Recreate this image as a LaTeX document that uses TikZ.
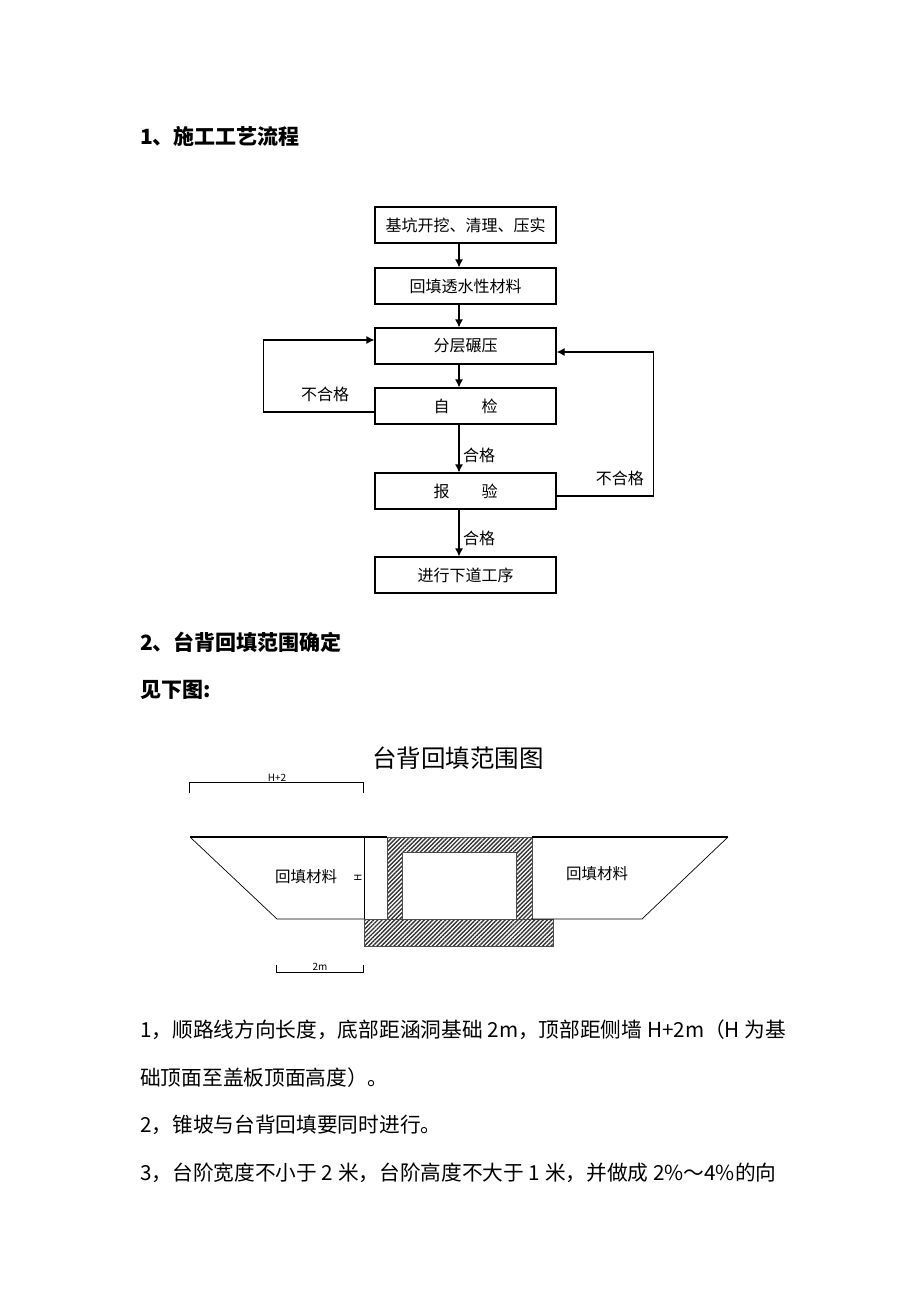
\documentclass[tikz,border=0pt]{standalone}
\usepackage{fontspec}
\setmainfont{Noto Sans CJK SC}
\usepackage{tikz}
\usetikzlibrary{positioning}
\usetikzlibrary{patterns.meta}
\usetikzlibrary{arrows.meta}

\begin{document}
\begin{tikzpicture}[x=1pt,y=-1pt,>={Latex[length=8pt,width=8pt]}]
	
	\def\bx{465.5}
	% Stile
	\tikzset{kasten/.style={draw,line width=1.2pt,minimum width=181pt,minimum height=36pt,inner sep=0pt,font=\fontsize{16}{16}\selectfont}}
	\tikzset{pfeil/.style={->,line width=1.2pt}}
	\tikzset{marke/.style={inner sep=0pt,font=\fontsize{16}{16}\selectfont}}
	\tikzset{titel/.style={anchor=west,inner sep=0pt,font=\fontsize{21}{21}\selectfont\bfseries}}
	\tikzset{zeile/.style={anchor=west,inner sep=0pt,font=\fontsize{20.7}{20.7}\selectfont}}
	\tikzset{klein/.style={inner sep=0pt,font=\fontsize{10}{10}\selectfont}}
	\tikzset{schraffur/.style={pattern={Lines[angle=45,distance=3pt,line width=1.4pt]},pattern color=black!80}}
	
	\useasboundingbox[fill=white] (0,0) rectangle (920,1302);
	
	% Ueberschriften
	\node[titel] (t1) at (140,136) {1、施工工艺流程};
	\node[titel] (t2) at (140,642) {2、台背回填范围确定};
	\node[titel] (t3) at (140,690) {见下图:};
	
	% Kaesten
	\node[kasten] (b1) at (\bx,225) {基坑开挖、清理、压实};
	\node[kasten] (b2) at (\bx,286) {回填透水性材料};
	\node[kasten] (b3) at (\bx,346) {分层碾压};
	\node[kasten] (b4) at (\bx,406) {自\hspace{2em}检};
	\node[kasten] (b5) at (\bx,491) {报\hspace{2em}验};
	\node[kasten] (b6) at (\bx,575) {进行下道工序};
	
	% Pfeile
	\foreach \a/\b in {b1/b2,b2/b3,b3/b4,b4/b5,b5/b6}
		\draw[pfeil] ([xshift=-6.5pt]\a.south) -- ([xshift=-6.5pt]\b.north);
	\draw[pfeil] ([yshift=-6pt]b4.west) -- ++(-111,0) |- ([yshift=6pt]b3.west);
	\draw[pfeil] ([yshift=-5pt]b5.east) -- ++(97,0) |- ([yshift=-6pt]b3.east);
	
	\node[marke,above left=4pt and 25pt of b4.west] (n1) {不合格};
	\node[marke,above right=5pt and 39pt of b5.east] (n2) {不合格};
	\node[marke] (g1) at (479,455) {合格};
	\node[marke] (g2) at (479,538) {合格};
	
	% Schnitt
	\node[inner sep=0pt,font=\fontsize{24.5}{24.5}\selectfont] (ti) at (458,758) {台背回填范围图};
	
	\fill[schraffur,even odd rule] (387,837) rectangle (532,919) (402,852) rectangle (516,919);
	\fill[schraffur] (364,919) rectangle (553,946);
	\draw[black!70,line width=0.6pt] (387,919) -- (387,837) -- (532,837) -- (532,919);
	\draw[black!70,line width=0.6pt] (402,919) -- (402,852) -- (516,852) -- (516,919);
	\draw[black!70,line width=0.6pt] (364,919) rectangle (553,946);
	
	\draw[line width=1.6pt] (190,837) -- (387,837);
	\draw[line width=1.6pt] (532,837) -- (728,837);
	\draw[line width=0.7pt] (190,837) -- (277,919) -- (364,919);
	\draw[line width=1pt] (364,837) -- (364,919);
	\draw[line width=0.7pt] (728,837) -- (642,919) -- (532,919);
	
	\node[marke,font=\fontsize{15.5}{15.5}\selectfont] (m1) at (306,877) {回填材料};
	\node[marke,font=\fontsize{15.5}{15.5}\selectfont] (m2) at (597,874) {回填材料};
	\node[klein,rotate=90] (h) at (358,878) {H};
	
	% Masse
	\draw[line width=0.7pt] (189,793) -- (189,782) -- (363,782) -- (363,793);
	\node[klein] (d1) at (277,778) {H+2};
	\draw[line width=0.7pt] (276,965) -- (276,972) -- (363,972) -- (363,965);
	\node[klein] (d2) at (320,967) {2m};
	
	% Text
	\node[zeile] (z1) at (140,1030) {1，顺路线方向长度，底部距涵洞基础 2m，顶部距侧墙 H+2m（H 为基};
	\node[zeile] (z2) at (140,1078) {础顶面至盖板顶面高度）。};
	\node[zeile] (z3) at (140,1125) {2，锥坡与台背回填要同时进行。};
	\node[zeile] (z4) at (140,1173) {3，台阶宽度不小于 2 米，台阶高度不大于 1 米，并做成 2\%～4\%的向};
	
\end{tikzpicture}
\end{document}
